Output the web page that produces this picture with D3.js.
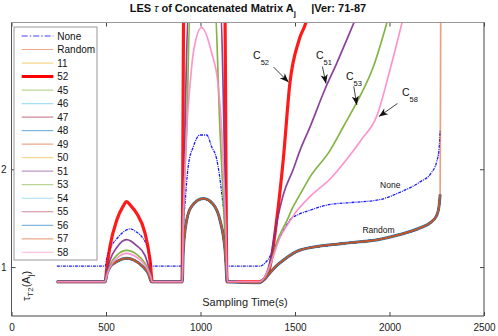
<!DOCTYPE html>
<html>
<head>
<meta charset="utf-8">
<script src="https://cdn.jsdelivr.net/npm/d3@7"></script>
<style>
body { margin: 0; background: #fff; }
svg { display: block; font-family: "Liberation Sans", Arial, Helvetica, sans-serif; }
</style>
</head>
<body>
<div id="wrapper"></div>
<script>
// [sampling time (s), tau] pairs
const noneSeries = [[240,1.01],[495,1.01],[505,1.1],[530,1.22],[557,1.29],[600,1.37],[627,1.39],[660,1.36],[697,1.29],[720,1.2],[733,1.1],[742,1.01],
  [904,1.01],[909,1.4],[918,1.65],[935,2.03],[962,2.23],[997,2.35],[1033,2.35],[1059,2.23],[1086,2.1],[1112,1.76],[1130,1.41],[1142,1.01],
  [1315,1.01],[1350,1.06],[1403,1.24],[1440,1.38],[1473,1.48],[1520,1.54],[1562,1.57],[1685,1.64],[1800,1.66],[1950,1.69],[2050,1.76],[2161,1.87],[2220,1.96],[2250,2.08],[2262,2.2],[2268,2.4]]

// Random, 11, 45-50, 54-57 all sit on top of each other
const clusterSeries = [[240,0.85],[495,0.85],[505,0.93],[521,1.0],[560,1.06],[609,1.09],[650,1.07],[697,1.0],[725,0.93],[740,0.85],
  [904,0.85],[909,1.17],[927,1.48],[953,1.62],[1015,1.70],[1068,1.64],[1103,1.48],[1130,1.17],[1142,0.85],
  [1310,0.84],[1340,0.88],[1367,0.94],[1400,1.01],[1438,1.07],[1509,1.16],[1615,1.21],[1700,1.23],[1800,1.25],[1939,1.28],[2050,1.33],[2161,1.40],[2220,1.46],[2250,1.53],[2262,1.62],[2268,1.74]]
const randomTail = [[2271,3.6]]

const series52 = [[240,0.85],[495,0.85],[505,1.0],[521,1.21],[557,1.48],[590,1.62],[609,1.67],[630,1.63],[662,1.55],[706,1.35],[733,1.07],[745,0.85],
  [902,0.85],[912,3.7],[1128,3.7],[1140,0.85],
  [1310,0.85],[1340,0.88],[1367,1.0],[1403,1.48],[1438,2.1],[1473,2.88],[1523,3.33],[1562,3.53],[1580,3.7]]

const series51 = [[240,0.85],[495,0.85],[505,0.95],[521,1.07],[557,1.2],[609,1.28],[662,1.22],[706,1.12],[733,0.95],[745,0.85],
  [904,0.85],[912,1.8],[922,2.8],[935,3.6],[1108,3.6],[1120,2.8],[1130,1.8],[1140,0.85],
  [1310,0.85],[1340,0.9],[1367,1.05],[1403,1.45],[1438,1.74],[1491,2.0],[1526,2.19],[1579,2.43],[1659,2.82],[1720,3.08],[1773,3.32],[1823,3.55]]

const series53 = [[240,0.85],[495,0.85],[505,0.93],[521,1.02],[557,1.12],[609,1.17],[662,1.13],[706,1.04],[735,0.92],[745,0.85],
  [904,0.85],[910,1.5],[918,2.0],[927,2.4],[944,3.6],[1077,3.6],[1103,2.4],[1118,1.8],[1130,1.3],[1140,0.85],
  [1310,0.85],[1340,0.9],[1370,1.02],[1403,1.25],[1456,1.47],[1491,1.62],[1526,1.74],[1579,1.92],[1685,2.19],[1760,2.45],[1826,2.68],[1915,3.05],[1994,3.55]]

const series58 = [[240,0.85],[495,0.85],[505,0.92],[521,1.0],[557,1.09],[609,1.14],[662,1.1],[706,1.02],[735,0.91],[745,0.85],
  [904,0.85],[908,1.4],[916,1.9],[927,2.41],[944,2.85],[962,3.19],[1006,3.45],[1059,3.19],[1094,2.85],[1112,2.41],[1124,1.9],[1134,1.4],[1142,0.85],
  [1310,0.85],[1340,0.9],[1380,1.08],[1420,1.3],[1456,1.42],[1500,1.55],[1579,1.72],[1685,1.9],[1773,2.1],[1850,2.3],[1932,2.54],[2003,3.02],[2073,3.55]]

const seriesNames = ["None","Random","11","52","45","46","47","48","49","50","51","53","54","55","56","57","58"]
const seriesData = [noneSeries, clusterSeries.concat(randomTail), clusterSeries, series52, clusterSeries, clusterSeries, clusterSeries, clusterSeries,
  clusterSeries, clusterSeries, series51, series53, clusterSeries, clusterSeries, clusterSeries, clusterSeries, series58]
const seriesColors = ["#0000ff","#d95319","#edb120","#ff0000","#77ac30","#4dbeee","#a2142f","#0072bd","#d95319","#edb120","#7e2f8e","#77ac30","#4dbeee","#a2142f","#0072bd","#d95319","#ff88c8"]

const xTicks = [0, 500, 1000, 1500, 2000, 2500]
const yTicks = [1, 2]

// arrow annotations: [label, text anchor, arrow tail, arrow tip] in data units
const annotLabels = ["52","51","53","58"]
const annotText = [[1278,3.13],[1611,3.127],[1770,2.912],[2066,2.749]]
const annotTail = [[1386,3.045],[1645,3.05],[1811,2.846],[2042,2.672]]
const annotTip = [[1466,2.89],[1664,2.877],[1827,2.657],[1944,2.539]]
const curveLabels = [["None",[1950,1.81]],["Random",[1857,1.35]]]

const W = 498, H = 336
const plot = { left: 11.5, right: 484, top: 22.5, bottom: 316 }

const svg = d3.select("#wrapper").append("svg").attr("width", W).attr("height", H)

const x = d3.scaleLinear().domain([0, 2500]).range([plot.left, plot.right])
const y = d3.scaleLinear().domain([0.5, 3.5]).range([plot.bottom, plot.top])

svg.append("clipPath").attr("id", "clip").append("rect")
  .attr("x", plot.left).attr("y", plot.top)
  .attr("width", plot.right - plot.left).attr("height", plot.bottom - plot.top)

const line = d3.line().x(d => x(d[0])).y(d => y(d[1])).curve(d3.curveMonotoneX)

const lines = svg.append("g").attr("clip-path", "url(#clip)")
seriesNames.forEach((name, i) => {
  let w = 1.7, op = 0.9
  if (name == "52") w = 3.2
  if (name == "None") w = 1.3
  if (name == "56") w = 3
  if (name == "57") w = 2
  if (name == "Random") op = 0.55
  lines.append("path")
    .datum(seriesData[i])
    .attr("d", line)
    .attr("fill", "none")
    .attr("stroke", seriesColors[i])
    .attr("stroke-width", w)
    .attr("stroke-opacity", op)
    .attr("stroke-dasharray", name == "None" ? "3,1,1,1" : null)
})

// axes with inward ticks, MATLAB style
const fmt = d3.format("d")
const xAxis = svg.append("g").attr("transform", `translate(0,${plot.bottom})`)
  .call(d3.axisBottom(x).tickValues(xTicks).tickSize(-4).tickPadding(8).tickFormat(fmt))
const xTop = svg.append("g").attr("transform", `translate(0,${plot.top})`)
  .call(d3.axisTop(x).tickValues(xTicks).tickSize(-4).tickFormat(""))
const yAxis = svg.append("g").attr("transform", `translate(${plot.left},0)`)
  .call(d3.axisLeft(y).tickValues(yTicks).tickSize(-4).tickPadding(5).tickFormat(fmt))
const yRight = svg.append("g").attr("transform", `translate(${plot.right},0)`)
  .call(d3.axisRight(y).tickValues(yTicks).tickSize(-4).tickFormat(""))
;[xAxis, xTop, yAxis, yRight].forEach(a => {
  a.select(".domain").remove()
  a.selectAll("line").attr("stroke", "#444")
  a.selectAll("text").attr("fill", "#222").style("font-size", "10px").style("font-family", null)
})

svg.append("line").attr("x1", plot.left).attr("x2", plot.right).attr("y1", plot.top).attr("y2", plot.top).attr("stroke", "#999")
svg.append("line").attr("x1", plot.left).attr("x2", plot.right).attr("y1", plot.bottom).attr("y2", plot.bottom).attr("stroke", "#444")
svg.append("line").attr("x1", plot.left).attr("x2", plot.left).attr("y1", plot.top).attr("y2", plot.bottom).attr("stroke", "#555")
svg.append("line").attr("x1", plot.right).attr("x2", plot.right).attr("y1", plot.top).attr("y2", plot.bottom).attr("stroke", "#444")

// title
const title = svg.append("text").attr("x", 248).attr("y", 11.5).attr("text-anchor", "middle")
  .style("font-size", "11px").style("font-weight", "bold").attr("fill", "#111")
title.append("tspan").text("LES ")
title.append("tspan").style("font-weight", "normal").style("font-style", "italic").text("τ")
title.append("tspan").text(" of Concatenated Matrix A")
title.append("tspan").attr("dy", 4.5).style("font-size", "8px").text("j")
title.append("tspan").attr("dy", -4.5).text("\u00a0\u00a0\u00a0\u00a0\u00a0|Ver: 71-87")

// axis labels (placed inside the box like the original)
svg.append("text").attr("x", 245).attr("y", 306).attr("text-anchor", "middle")
  .style("font-size", "11px").attr("fill", "#222").text("Sampling Time(s)")

const ylab = svg.append("text").attr("transform", "translate(30,301) rotate(-90)")
  .style("font-size", "11px").attr("fill", "#222")
ylab.append("tspan").text("τ")
ylab.append("tspan").attr("dy", 3).style("font-size", "8px").text("T2")
ylab.append("tspan").attr("dy", -3).text("(A")
ylab.append("tspan").attr("dy", 3).style("font-size", "8px").text("j")
ylab.append("tspan").attr("dy", -3).text(")")

// arrows
svg.append("defs").append("marker").attr("id", "head")
  .attr("markerUnits", "userSpaceOnUse").attr("markerWidth", 12).attr("markerHeight", 10)
  .attr("refX", 0).attr("refY", 0).attr("viewBox", "-10 -5 12 10").attr("orient", "auto")
  .append("path").attr("d", "M0,0 L-9,-3.6 L-6.5,0 L-9,3.6 Z").attr("fill", "#111")

annotLabels.forEach((lab, i) => {
  svg.append("line")
    .attr("x1", x(annotTail[i][0])).attr("y1", y(annotTail[i][1]))
    .attr("x2", x(annotTip[i][0])).attr("y2", y(annotTip[i][1]))
    .attr("stroke", "#111").attr("stroke-width", 0.8).attr("marker-end", "url(#head)")
  const t = svg.append("text").attr("x", x(annotText[i][0])).attr("y", y(annotText[i][1]))
    .style("font-size", "10.5px").attr("fill", "#111")
  t.append("tspan").text("C")
  t.append("tspan").attr("dy", 6).style("font-size", "7.5px").text(lab)
})

curveLabels.forEach(c => {
  svg.append("text").attr("x", x(c[1][0])).attr("y", y(c[1][1]))
    .style("font-size", "8.5px").attr("fill", "#111").text(c[0])
})

// legend
const leg = svg.append("g")
leg.append("rect").attr("x", 14).attr("y", 27).attr("width", 83).attr("height", 233)
  .attr("fill", "#fff").attr("stroke", "#999").attr("stroke-width", 1)
seriesNames.forEach((name, i) => {
  const ly = 36 + i * 13.52
  leg.append("line").attr("x1", 21.7).attr("x2", 53.3).attr("y1", ly).attr("y2", ly)
    .attr("stroke", seriesColors[i])
    .attr("stroke-width", name == "52" ? 3 : 1.2)
    .attr("stroke-opacity", name == "52" ? 1 : (name == "None" ? 0.75 : 0.5))
    .attr("stroke-dasharray", name == "None" ? "6,2,1.5,2" : null)
  leg.append("text").attr("x", 57.3).attr("y", ly).attr("dy", "0.35em")
    .style("font-size", "10px").attr("fill", "#111").text(name)
})
</script>
</body>
</html>
